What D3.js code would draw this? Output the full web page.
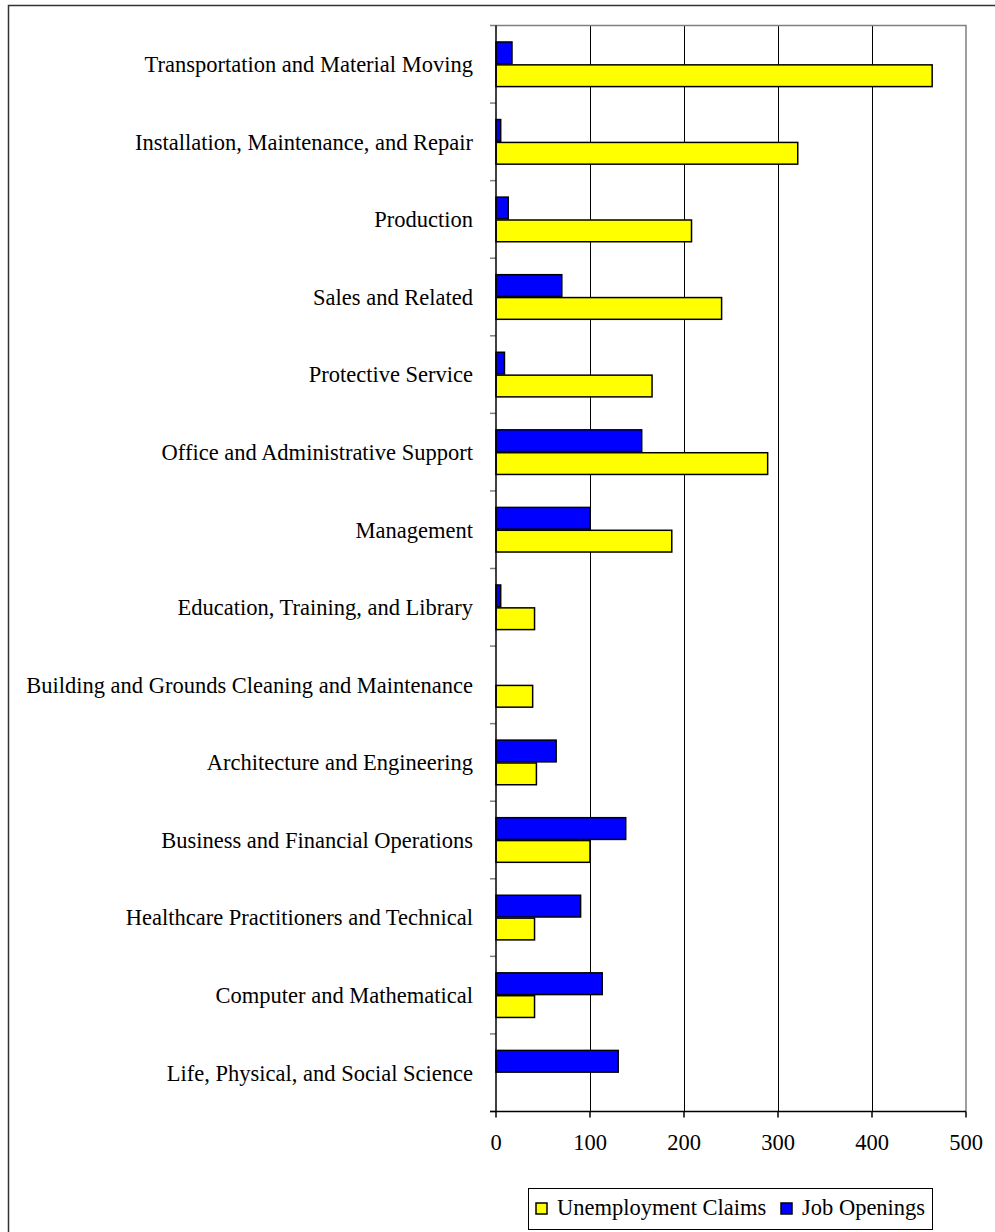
<html>
<head>
<meta charset="utf-8">
<script src="https://cdnjs.cloudflare.com/ajax/libs/d3/7.8.5/d3.min.js"></script>
<style>
  body { margin: 0; background: #fff; }
  text { font-family: "Liberation Serif", "Times New Roman", serif; fill: #000; }
</style>
</head>
<body>
<div id="chartContainer"></div>
<script>
// occupation groups, top to bottom
var categories = [
  "Transportation and Material Moving",
  "Installation, Maintenance, and Repair",
  "Production",
  "Sales and Related",
  "Protective Service",
  "Office and Administrative Support",
  "Management",
  "Education, Training, and Library",
  "Building and Grounds Cleaning and Maintenance",
  "Architecture and Engineering",
  "Business and Financial Operations",
  "Healthcare Practitioners and Technical",
  "Computer and Mathematical",
  "Life, Physical, and Social Science"
];
var unemploymentClaims = [464, 321, 208, 240, 166, 289, 187, 41, 39, 43, 100, 41, 41, 0];
var jobOpenings = [17, 5, 13, 70, 9, 155, 100, 5, 0, 64, 138, 90, 113, 130];
var seriesNames = ["Unemployment Claims", "Job Openings"];
var seriesColors = ["#ffff00", "#0000ff"];
var xTicks = [0, 100, 200, 300, 400, 500];

var W = 995, H = 1232;
var fontSize = "22.5px";
var svg = d3.select("#chartContainer").append("svg")
    .attr("width", W).attr("height", H);

// outer chart frame (runs off the right and bottom edges)
svg.append("rect")
    .attr("x", 8.5).attr("y", 5.5)
    .attr("width", 1000).attr("height", 1240)
    .style("fill", "none").style("stroke", "#333").style("stroke-width", 1.5);

var plotLeft = 496, plotRight = 966, plotTop = 25.5, plotBottom = 1111.5;

var x = d3.scaleLinear().domain([0, 500]).range([plotLeft, plotRight]);
var y = d3.scaleBand().domain(categories).range([plotTop, plotBottom]);
// blue sits above yellow inside each category
var ySub = d3.scaleBand().domain(["Job Openings", "Unemployment Claims"])
    .range([0, y.bandwidth()]).paddingInner(0.05).paddingOuter(0.72);

// vertical gridlines
svg.selectAll("line.grid")
    .data(xTicks.slice(1, -1))
    .enter().append("line")
    .attr("x1", function (d) { return Math.round(x(d)) + 0.5; })
    .attr("x2", function (d) { return Math.round(x(d)) + 0.5; })
    .attr("y1", plotTop).attr("y2", plotBottom)
    .style("stroke", "#000").style("stroke-width", 1);

// plot border (top and right), grey
svg.append("path")
    .attr("d", "M" + plotLeft + "," + plotTop + "H" + plotRight + "V" + plotBottom)
    .style("fill", "none").style("stroke", "#808080").style("stroke-width", 1.5);

var rows = categories.map(function (c, i) {
  return { cat: c, claims: unemploymentClaims[i], openings: jobOpenings[i] };
});

function drawBars(key, name, color) {
  svg.selectAll("rect.bar-" + key)
      .data(rows.filter(function (d) { return d[key] > 0; }))
      .enter().append("rect")
      .attr("class", "bar-" + key)
      .attr("x", x(0))
      .attr("y", function (d) { return y(d.cat) + ySub(name); })
      .attr("width", function (d) { return x(d[key]) - x(0); })
      .attr("height", ySub.bandwidth())
      .style("fill", color)
      .style("stroke", "#000")
      .style("stroke-width", 1.5);
}
drawBars("openings", "Job Openings", seriesColors[1]);
drawBars("claims", "Unemployment Claims", seriesColors[0]);

// y axis: line, grey ticks on category boundaries, labels
var bounds = categories.map(function (c) { return y(c); }).concat([plotBottom]);
svg.selectAll("line.ytick")
    .data(bounds)
    .enter().append("line")
    .attr("x1", plotLeft - 6).attr("x2", plotLeft)
    .attr("y1", function (d) { return d; }).attr("y2", function (d) { return d; })
    .style("stroke", "#808080").style("stroke-width", 1.5);

svg.append("line")
    .attr("x1", plotLeft).attr("x2", plotLeft)
    .attr("y1", plotTop).attr("y2", plotBottom)
    .style("stroke", "#000").style("stroke-width", 1.5);

svg.selectAll("text.ylab")
    .data(categories)
    .enter().append("text")
    .attr("x", 473)
    .attr("y", function (d) { return y(d) + y.bandwidth() / 2; })
    .attr("dy", "0.35em")
    .style("text-anchor", "end")
    .style("font-size", fontSize)
    .text(function (d) { return d; });

// x axis
svg.append("line")
    .attr("x1", plotLeft - 6).attr("x2", plotRight)
    .attr("y1", plotBottom).attr("y2", plotBottom)
    .style("stroke", "#000").style("stroke-width", 1.5);

svg.selectAll("line.xtick")
    .data(xTicks)
    .enter().append("line")
    .attr("x1", function (d) { return x(d); })
    .attr("x2", function (d) { return x(d); })
    .attr("y1", plotBottom).attr("y2", plotBottom + 6)
    .style("stroke", "#000").style("stroke-width", 1.5);

svg.selectAll("text.xlab")
    .data(xTicks)
    .enter().append("text")
    .attr("x", function (d) { return x(d); })
    .attr("y", 1150)
    .style("text-anchor", "middle")
    .style("font-size", fontSize)
    .text(function (d) { return d; });

// legend
var legend = svg.append("g");
legend.append("rect")
    .attr("x", 528.5).attr("y", 1188.5)
    .attr("width", 404).attr("height", 41)
    .style("fill", "#fff").style("stroke", "#000").style("stroke-width", 1);

var legendX = [536, 781];
seriesNames.forEach(function (name, i) {
  legend.append("rect")
      .attr("x", legendX[i]).attr("y", 1203)
      .attr("width", 11).attr("height", 11)
      .style("fill", seriesColors[i])
      .style("stroke", "#000").style("stroke-width", 1.5);
  legend.append("text")
      .attr("x", legendX[i] + 21)
      .attr("y", 1215)
      .style("font-size", fontSize)
      .text(name);
});
</script>
</body>
</html>
